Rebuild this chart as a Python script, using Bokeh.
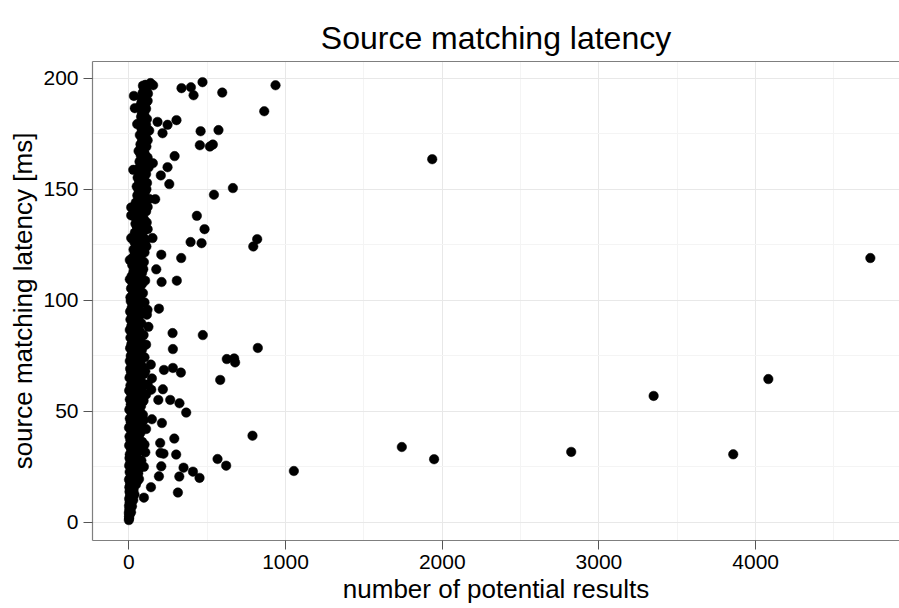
from bokeh.plotting import figure
from bokeh.models import Range1d, SingleIntervalTicker, LinearAxis, FixedTicker, ColumnDataSource
from bokeh.embed import file_html
from bokeh.resources import INLINE

# (number of potential results, source matching latency [ms])
column_low = [
    (0, 1.0), (2, 1.8), (1, 2.6), (4, 3.4), (0, 4.2), (6, 5.0), (3, 5.8), (9, 6.6), (1, 7.4), (12, 8.2),
    (5, 9.0), (15, 9.8), (2, 10.6), (18, 11.4), (8, 12.2), (24, 13.0), (4, 13.8), (30, 14.6), (12, 15.2),
    (36, 12.5), (28, 10.0), (20, 7.2), (14, 4.5),
    (3, 15.8), (20, 16.4), (45, 16.9), (8, 17.5), (33, 18.1), (55, 18.6), (1, 19.2), (26, 19.8), (48, 20.3),
    (12, 20.9), (38, 21.5), (60, 22.0), (5, 22.6), (30, 23.2), (52, 23.7), (16, 24.3), (42, 24.9), (2, 25.5),
    (25, 26.0), (58, 26.6), (10, 27.2), (36, 27.7), (50, 28.3), (4, 28.9), (22, 29.4), (44, 30.0), (70, 24.5),
    (80, 27.8), (65, 19.5),
]
column_mid = [
    (6, 30.6), (30, 31.2), (56, 31.7), (78, 32.3), (14, 32.9), (42, 33.5), (66, 34.0), (2, 34.6), (24, 35.2),
    (50, 35.8), (84, 36.3), (10, 36.9), (36, 37.5), (62, 38.0), (4, 38.6), (28, 39.2), (54, 39.8), (74, 40.3),
    (16, 40.9), (44, 41.5), (68, 42.1), (1, 42.6), (22, 43.2), (48, 43.8), (80, 44.4), (12, 44.9), (38, 45.5),
    (60, 46.1), (6, 46.7), (30, 47.2), (56, 47.8), (90, 48.4), (18, 49.0), (42, 49.5), (70, 50.1), (100, 35.0),
    (110, 42.0), (95, 46.0), (105, 31.5),
    (3, 50.7), (26, 51.3), (52, 51.9), (78, 52.4), (12, 53.0), (40, 53.6), (64, 54.2), (94, 54.7), (6, 55.3),
    (32, 55.9), (58, 56.5), (84, 57.0), (16, 57.6), (44, 58.2), (70, 58.8), (2, 59.3), (24, 59.9), (50, 60.5),
    (88, 61.1), (10, 61.6), (36, 62.2), (62, 62.8), (80, 63.4), (20, 63.9), (46, 64.5), (4, 65.1), (28, 65.7),
    (54, 66.2), (96, 66.8), (14, 67.4), (40, 68.0), (66, 68.5), (8, 69.1), (34, 69.7), (86, 70.0), (110, 57.5),
    (120, 62.0), (105, 68.0),
]
column_upper = [
    (18, 70.8), (48, 71.4), (74, 72.0), (6, 72.6), (30, 73.2), (58, 73.8), (100, 74.3), (12, 74.9), (40, 75.5),
    (66, 76.1), (22, 76.7), (52, 77.3), (84, 77.8), (8, 78.4), (34, 79.0), (62, 79.6), (16, 80.2), (44, 80.8),
    (76, 81.4), (28, 81.9), (56, 82.5), (10, 83.1), (38, 83.7), (94, 84.3), (20, 84.9), (48, 85.5), (70, 86.0),
    (6, 86.6), (32, 87.2), (58, 87.8), (16, 88.4), (44, 89.0), (80, 89.6), (26, 90.2), (54, 90.7), (10, 91.3),
    (36, 91.9), (64, 92.5), (20, 93.1), (46, 93.7), (90, 94.3), (8, 94.9), (30, 95.5), (58, 96.0), (18, 96.6),
    (42, 97.2), (70, 97.8), (26, 98.4), (52, 99.0), (12, 99.6), (110, 80.0), (125, 88.0), (115, 93.5), (100, 99.0),
    (36, 100.4), (64, 101.1), (20, 101.8), (48, 102.5), (90, 103.2), (28, 103.9), (56, 104.6), (14, 105.3),
    (42, 106.0), (76, 106.7), (24, 107.4), (52, 108.1), (104, 108.8), (34, 109.5), (62, 110.2), (18, 110.9),
    (46, 111.6), (84, 112.3), (30, 113.0), (58, 113.7), (40, 114.4), (70, 115.1), (22, 115.8), (50, 116.5),
    (96, 117.2), (34, 117.9), (62, 118.6), (26, 119.3), (54, 120.0), (80, 120.7), (38, 121.4), (66, 122.1),
    (30, 122.8), (56, 123.5), (112, 124.2), (44, 124.9),
    (74, 102.0), (86, 107.5), (70, 111.0), (92, 114.0), (78, 118.0), (100, 121.5), (88, 124.0),
]
column_top = [
    (72, 125.6), (34, 126.4), (60, 127.2), (96, 128.0), (46, 128.8), (78, 129.6), (38, 130.4), (64, 131.2),
    (120, 132.0), (52, 132.8), (86, 133.6), (42, 134.4), (70, 135.2), (100, 136.0), (56, 136.8), (36, 137.6),
    (82, 138.4), (62, 139.2), (110, 140.0), (48, 140.8), (76, 141.6), (58, 142.4), (94, 143.2), (44, 144.0),
    (70, 144.8), (130, 145.6), (86, 146.4), (54, 147.2), (76, 148.0), (104, 148.8), (62, 149.6), (90, 150.4),
    (50, 151.2), (80, 152.0), (116, 152.8), (66, 153.6), (96, 154.4), (56, 155.2), (84, 156.0), (110, 156.8),
    (70, 157.6), (92, 158.4), (60, 159.2), (126, 159.8),
    (80, 160.6), (104, 161.4), (68, 162.4), (92, 163.4), (120, 164.2), (76, 165.2), (100, 166.2), (62, 167.2),
    (88, 168.2), (112, 169.2), (74, 170.2), (96, 171.2), (84, 172.4), (108, 173.4), (70, 174.4), (94, 175.4),
    (130, 176.4), (80, 177.4), (102, 178.4), (66, 179.4), (90, 180.6), (116, 181.6), (78, 182.6), (98, 183.8),
    (86, 185.0), (110, 186.2), (72, 187.4), (94, 188.6), (120, 189.8), (82, 191.0), (100, 192.2), (88, 193.4),
    (112, 194.6), (96, 195.8), (106, 197.0), (138, 197.8), (155, 196.8), (80, 189.0),
    (108, 127.0), (90, 130.8), (74, 133.0), (114, 135.0), (92, 137.0), (68, 139.8), (120, 142.0), (98, 145.0),
    (64, 146.0), (112, 150.0), (74, 151.6), (102, 157.8), (86, 161.8), (110, 164.8), (90, 166.8), (78, 169.0),
    (100, 170.0), (120, 172.0), (86, 176.0), (110, 179.0), (96, 181.2), (84, 184.2), (104, 188.0), (122, 193.0),
    (90, 196.6),
]
column_edges = [
    (32, 192.0), (38, 186.5), (53, 179.3), (28, 158.7), (15, 141.8), (15, 138.2), (15, 128.0), (6, 118.1),
    (6, 109.4), (10, 101.3),
    (183, 180.3), (215, 175.2), (153, 161.7), (247, 159.9), (204, 156.2), (258, 152.3), (168, 145.5),
    (207, 120.5), (175, 113.9), (209, 108.2), (151, 128.0), (119, 95.7), (192, 96.2), (140, 71.0),
    (224, 68.6), (147, 64.8), (143, 59.7), (217, 59.9), (188, 55.1), (147, 46.4), (211, 44.7), (200, 35.7),
    (202, 31.2), (221, 30.9), (207, 25.2), (192, 20.7), (141, 15.8), (96, 11.1), (96, 25.0),
]
outliers = [
    (470, 198.2), (936, 196.8), (336, 195.5), (396, 195.9), (413, 192.3), (596, 193.5), (864, 185.1),
    (304, 181.1), (247, 179.0), (458, 176.1), (572, 176.6), (453, 169.8), (517, 169.2), (536, 170.1),
    (292, 164.9), (664, 150.5), (543, 147.5), (434, 138.0), (483, 132.0), (394, 126.2), (464, 125.7),
    (819, 127.5), (794, 124.2), (334, 119.0), (306, 108.8), (1936, 163.5), (4732, 119.0), (279, 85.2),
    (472, 84.3), (281, 78.0), (823, 78.5), (281, 69.5), (332, 67.4), (625, 73.5), (672, 73.8), (678, 72.0),
    (583, 64.1), (4081, 64.5), (3349, 56.9), (264, 55.1), (323, 53.6), (366, 49.4), (290, 37.7), (789, 39.0),
    (302, 30.5), (566, 28.5), (621, 25.5), (1053, 23.1), (349, 24.6), (409, 22.8), (451, 20.0), (322, 20.6),
    (313, 13.4), (1742, 33.9), (1948, 28.4), (2823, 31.7), (3857, 30.6),
]

x_ticks = [0, 1000, 2000, 3000, 4000]
y_ticks = [0, 50, 100, 150, 200]

pts = column_low + column_mid + column_upper + column_top + column_edges + outliers
source = ColumnDataSource(data=dict(results=[q[0] for q in pts], latency=[q[1] for q in pts]))

FONT = "Liberation Sans"
BORDER = "#7f7f7f"

p = figure(width=899, height=608, output_backend="svg", toolbar_location=None,
           x_range=Range1d(-232, 4918), y_range=Range1d(-8.2, 207.5),
           title="Source matching latency",
           min_border_left=92, min_border_right=0, min_border_top=61, min_border_bottom=68)
p.outline_line_color = None
p.background_fill_color = "white"
p.border_fill_color = "white"

p.title.text_font = FONT
p.title.text_font_size = "32px"
p.title.text_font_style = "normal"
p.title.text_color = "black"
p.title.align = "center"
p.title.standoff = 12

p.scatter("results", "latency", source=source, size=9.5, fill_color="black",
          line_color="black", line_width=0.5)

xt = SingleIntervalTicker(interval=1000, num_minor_ticks=2)
yt = SingleIntervalTicker(interval=50, num_minor_ticks=2)
p.xaxis.ticker = xt
p.yaxis.ticker = yt
p.xgrid.ticker = xt
p.ygrid.ticker = yt

for ax, lab in ((p.xaxis, "number of potential results"), (p.yaxis, "source matching latency [ms]")):
    ax.axis_label = lab
    ax.axis_label_text_font = FONT
    ax.axis_label_text_font_size = "26px"
    ax.axis_label_text_font_style = "normal"
    ax.axis_label_text_color = "black"
    ax.major_label_text_font = FONT
    ax.major_label_text_font_size = "21px"
    ax.major_label_text_color = "black"
    ax.axis_line_color = BORDER
    ax.axis_line_width = 1.2
    ax.major_tick_line_color = "#555555"
    ax.major_tick_in = 0
    ax.major_tick_out = 9
    ax.minor_tick_line_color = None
    ax.major_label_standoff = 5
    ax.axis_label_standoff = 2

for g in (p.xgrid, p.ygrid):
    g.grid_line_color = "#e8e8e8"
    g.grid_line_width = 1
    g.minor_grid_line_color = "#f4f4f4"
    g.minor_grid_line_width = 1

top = LinearAxis(ticker=FixedTicker(ticks=[]), axis_line_color=BORDER, axis_line_width=1.2,
                 major_label_text_font_size="0px", major_tick_line_color=None,
                 minor_tick_line_color=None)
p.add_layout(top, "above")

open("out.html", "w").write(file_html(p, INLINE))
